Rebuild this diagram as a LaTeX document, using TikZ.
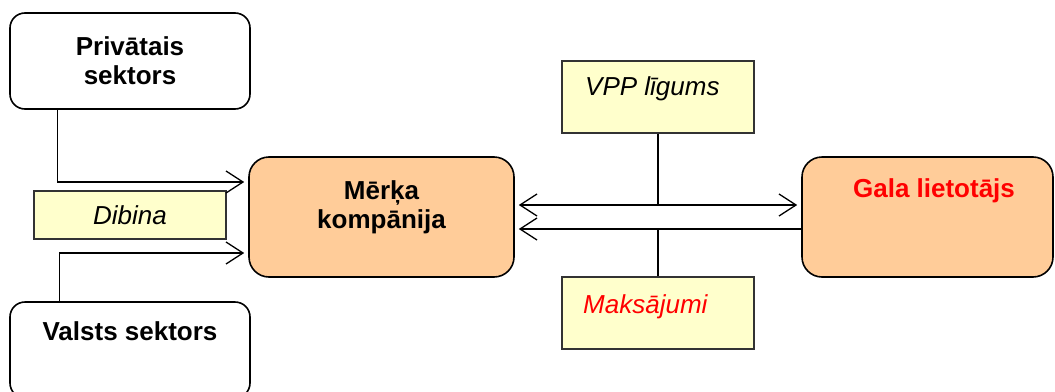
\documentclass[tikz,border=0pt]{standalone}
\usepackage{fontspec}
\setmainfont{Liberation Sans}
\usetikzlibrary{arrows.meta}
\definecolor{peach}{HTML}{FFCC99}
\definecolor{paleyellow}{HTML}{FFFFCC}
\definecolor{framegray}{HTML}{333333}

\begin{document}
\begin{tikzpicture}[x=1pt,y=-1pt,
  >={Straight Barb[length=17pt,width=22pt]},
  party/.style={draw=black, line width=1.6pt, rounded corners=15pt, fill=white, inner sep=0pt},
  actor/.style={party, fill=peach, rounded corners=20pt},
  tag/.style={draw=framegray, line width=1.4pt, fill=paleyellow, inner sep=0pt},
  label text/.style={font=\fontsize{26}{29}\selectfont\bfseries, align=center, inner sep=0pt},
  tag text/.style={font=\fontsize{26}{29}\selectfont\itshape, inner sep=0pt},
  conn/.style={line width=1.3pt},
]
\clip (0,0) rectangle (1055,391);

% parties on the left
\node[party, label text, minimum width=240pt, minimum height=96pt] (ps) at (130,61) {Privātais\\sektors};
\node[party, minimum width=240pt, minimum height=96pt] (vs) at (130,350) {};
\node[label text, anchor=base] (vst) at (130,340) {Valsts sektors};
\node[tag, tag text, minimum width=192pt, minimum height=48pt] (dib) at (130,215) {Dibina};

% main actors
\node[actor, minimum width=265pt, minimum height=120pt] (mk) at (381.5,217) {};
\node[label text, anchor=base] (mkt) at (381.5,228) {Mērķa\\kompānija};
\node[actor, minimum width=251pt, minimum height=120pt] (gl) at (927.5,217) {};
\node[label text, text=red, anchor=base] (glt) at (934,197) {Gala lietotājs};

% contract and payment tags
\node[tag, minimum width=192pt, minimum height=72pt] (vpp) at (658,97) {};
\node[tag text, anchor=base west] (vppt) at (585,95) {VPP līgums};
\node[tag, minimum width=192pt, minimum height=72pt] (mak) at (658,313) {};
\node[tag text, text=red, anchor=base west] (makt) at (583,313) {Maksājumi};

% founders feed the company
\draw[conn, ->] ([xshift=48pt]ps.south west) |- ([xshift=-4pt,yshift=35pt]mk.west);
\draw[conn, ->] ([xshift=50pt]vs.north west) |- ([xshift=-4pt,yshift=-36pt]mk.west);

% exchange between company and end user
\coordinate (upL) at ([xshift=4pt,yshift=12pt]mk.east);
\coordinate (upR) at ([xshift=-4pt,yshift=12pt]gl.west);
\coordinate (loL) at ([xshift=4pt,yshift=-12pt]mk.east);
\coordinate (loR) at ([yshift=-12pt]gl.west);
\draw[conn, <->] (upL) -- (upR);
\draw[conn, ->] (loR) -- (loL);
\draw[conn] (vpp.south) -- (vpp.south |- upL);
\draw[conn] (mak.north) -- (mak.north |- loL);
\end{tikzpicture}
\end{document}
